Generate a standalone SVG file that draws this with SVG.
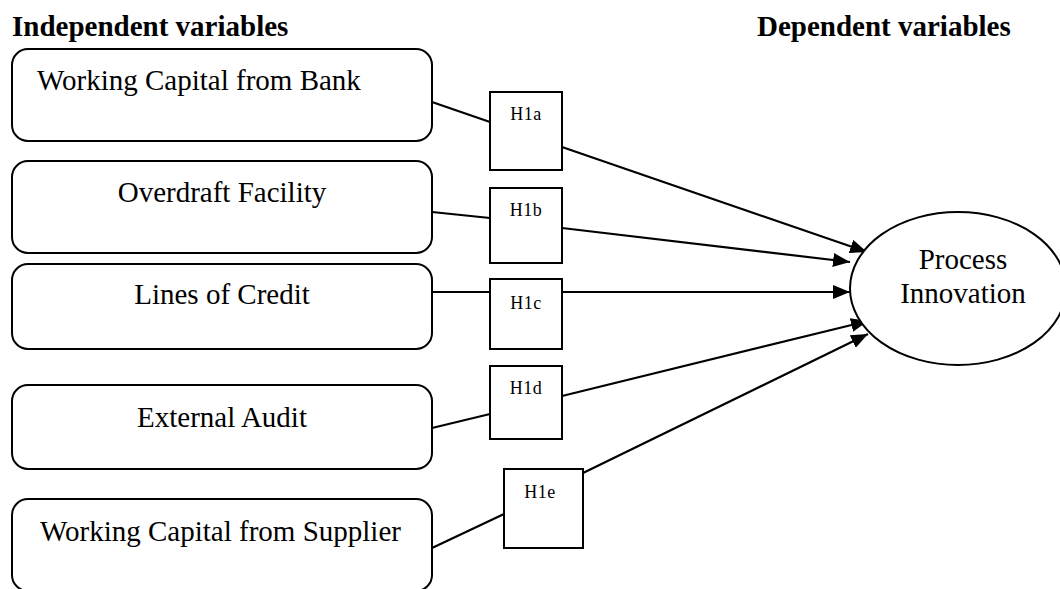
<svg xmlns="http://www.w3.org/2000/svg" width="1060" height="589" viewBox="0 0 1060 589">
<defs>
<style>
.box{fill:#fff;stroke:#000;stroke-width:2}
.hyp{fill:#fff;stroke:#000;stroke-width:2}
.t{font-family:"Liberation Serif","Times New Roman",serif;font-size:29px;fill:#000}
.hd{font-family:"Liberation Serif","Times New Roman",serif;font-size:29px;font-weight:bold;fill:#000}
.h{font-family:"Liberation Serif","Times New Roman",serif;font-size:18px;fill:#000;text-anchor:middle;letter-spacing:0.5px}
.c{stroke:#000;stroke-width:2.2;fill:none}
</style>
<marker id="arr" markerUnits="userSpaceOnUse" markerWidth="18" markerHeight="14" refX="17" refY="7" orient="auto">
<path d="M0,0 L17,7 L0,14 z" fill="#000"/>
</marker>
</defs>
<rect width="1060" height="589" fill="#fff"/>
<text class="hd" x="12" y="36">Independent variables</text>
<text class="hd" x="757" y="36">Dependent variables</text>
<g id="connectors">
<line class="c" x1="432" y1="102" x2="490" y2="122"/>
<line class="c" x1="562" y1="147" x2="867" y2="252" marker-end="url(#arr)"/>
<line class="c" x1="432" y1="212" x2="490" y2="218"/>
<line class="c" x1="562" y1="228" x2="850" y2="262" marker-end="url(#arr)"/>
<line class="c" x1="432" y1="292" x2="490" y2="292"/>
<line class="c" x1="562" y1="292" x2="850" y2="292" marker-end="url(#arr)"/>
<line class="c" x1="432" y1="428" x2="490" y2="414"/>
<line class="c" x1="562" y1="396" x2="868" y2="321" marker-end="url(#arr)"/>
<line class="c" x1="432" y1="548" x2="504" y2="514"/>
<line class="c" x1="583" y1="473" x2="868" y2="334" marker-end="url(#arr)"/>
</g>
<g id="n1"><rect class="box" x="12" y="49" width="420" height="92" rx="16"/><text class="t" x="37" y="90">Working Capital from Bank</text></g>
<g id="n2"><rect class="box" x="12" y="161" width="420" height="92" rx="16"/><text class="t" x="222" y="202" text-anchor="middle">Overdraft Facility</text></g>
<g id="n3"><rect class="box" x="12" y="264" width="420" height="85" rx="16"/><text class="t" x="222" y="304" text-anchor="middle">Lines of Credit</text></g>
<g id="n4"><rect class="box" x="12" y="385" width="420" height="84" rx="16"/><text class="t" x="222" y="427" text-anchor="middle">External Audit</text></g>
<g id="n5"><rect class="box" x="12" y="499" width="420" height="92" rx="16"/><text class="t" x="40" y="541">Working Capital from Supplier</text></g>
<g id="h1a"><rect class="hyp" x="490" y="92" width="72" height="78"/><text class="h" x="526" y="120">H1a</text></g>
<g id="h1b"><rect class="hyp" x="490" y="188" width="72" height="75"/><text class="h" x="526" y="216">H1b</text></g>
<g id="h1c"><rect class="hyp" x="490" y="279" width="72" height="70"/><text class="h" x="526" y="309">H1c</text></g>
<g id="h1d"><rect class="hyp" x="490" y="366" width="72" height="73"/><text class="h" x="526" y="394">H1d</text></g>
<g id="h1e"><rect class="hyp" x="504" y="469" width="79" height="79"/><text class="h" x="540" y="498">H1e</text></g>
<g id="pi"><ellipse cx="958" cy="288.5" rx="108" ry="76.5" fill="#fff" stroke="#000" stroke-width="2"/>
<text class="t" x="963" y="269" text-anchor="middle">Process</text>
<text class="t" x="963" y="303" text-anchor="middle">Innovation</text></g>
</svg>
